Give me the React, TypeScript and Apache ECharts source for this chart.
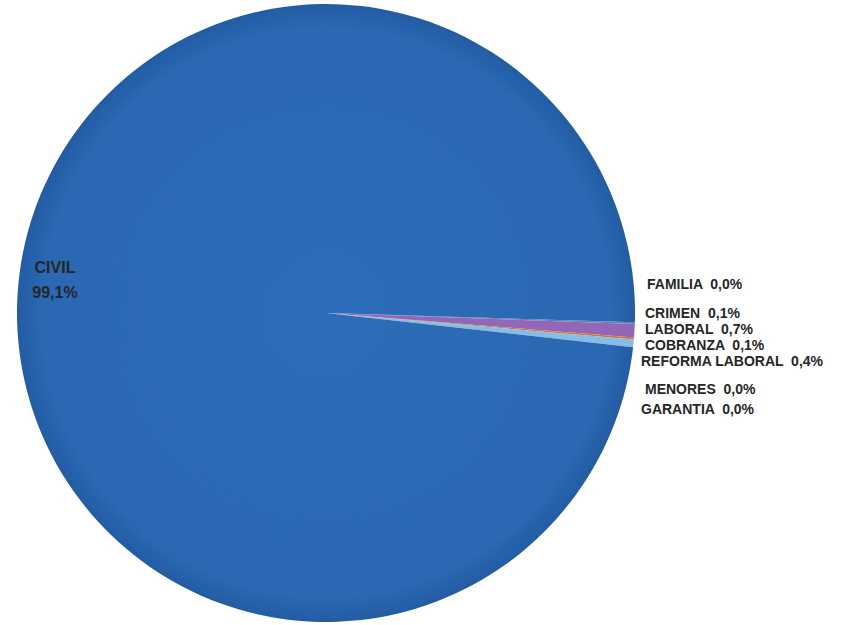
import React, { useEffect, useRef } from "react";
import * as echarts from "echarts";

const categories = ["FAMILIA", "CRIMEN", "LABORAL", "COBRANZA", "REFORMA LABORAL", "MENORES", "GARANTIA", "CIVIL"];
const percentValues = [0.0, 0.1, 0.7, 0.1, 0.4, 0.0, 0.0, 99.1];
const sliceColors = ["#3f78bd", "#5a86b8", "#9466b8", "#d07a30", "#86bce8", "#3f78bd", "#3f78bd", "#2a68b3"];
// label anchor positions (left x, middle y) in pixels
const labelX = [647, 645, 645, 645, 641, 645, 641, 55];
const labelY = [284, 313, 329, 345, 361, 389, 409, 280];

const fmt = (v: number) => v.toFixed(1).replace(".", ",") + "%";

export default function App() {
  const ref = useRef<HTMLDivElement>(null);
  useEffect(() => {
    if (!ref.current) return;
    const chart = echarts.init(ref.current, null, { renderer: "svg" });
    const data = categories.map((name, i) => ({
      name,
      value: percentValues[i],
      label:
        name === "CIVIL"
          ? { lineHeight: 25, fontSize: 16 }
          : { lineHeight: 15, fontSize: 14 },
      itemStyle: {
        color:
          name === "CIVIL"
            ? {
                type: "radial",
                x: 0.5,
                y: 0.5,
                r: 0.5,
                colorStops: [
                  { offset: 0, color: "#2d6cb8" },
                  { offset: 0.92, color: "#2a68b3" },
                  { offset: 1, color: "#225ca4" },
                ],
              }
            : sliceColors[i],
      },
    }));
    chart.setOption({
      animation: false,
      backgroundColor: "#ffffff",
      series: [
        {
          type: "pie",
          center: [326, 313],
          radius: [0, 309],
          startAngle: -1.7,
          clockwise: true,
          avoidLabelOverlap: false,
          itemStyle: { borderWidth: 0 },
          emphasis: { disabled: true },
          label: {
            show: true,
            position: "outside",
            color: "#262626",
            fontFamily: "Liberation Sans",
            fontWeight: "bold",
            fontSize: 14,
            formatter: (p: any) =>
              p.name === "CIVIL" ? p.name + "\n" + fmt(p.value) : p.name + "  " + fmt(p.value),
          },
          labelLine: { show: false },
          labelLayout: (p: any) => {
            const i = p.dataIndex;
            return {
              x: labelX[i],
              y: labelY[i],
              align: categories[i] === "CIVIL" ? "center" : "left",
              verticalAlign: "middle",
            };
          },
          data,
        },
      ],
    });
    return () => chart.dispose();
  }, []);
  return (
    <div
      ref={ref}
      style={{ position: "fixed", left: 0, top: 0, width: 863, height: 625 }}
    />
  );
}
